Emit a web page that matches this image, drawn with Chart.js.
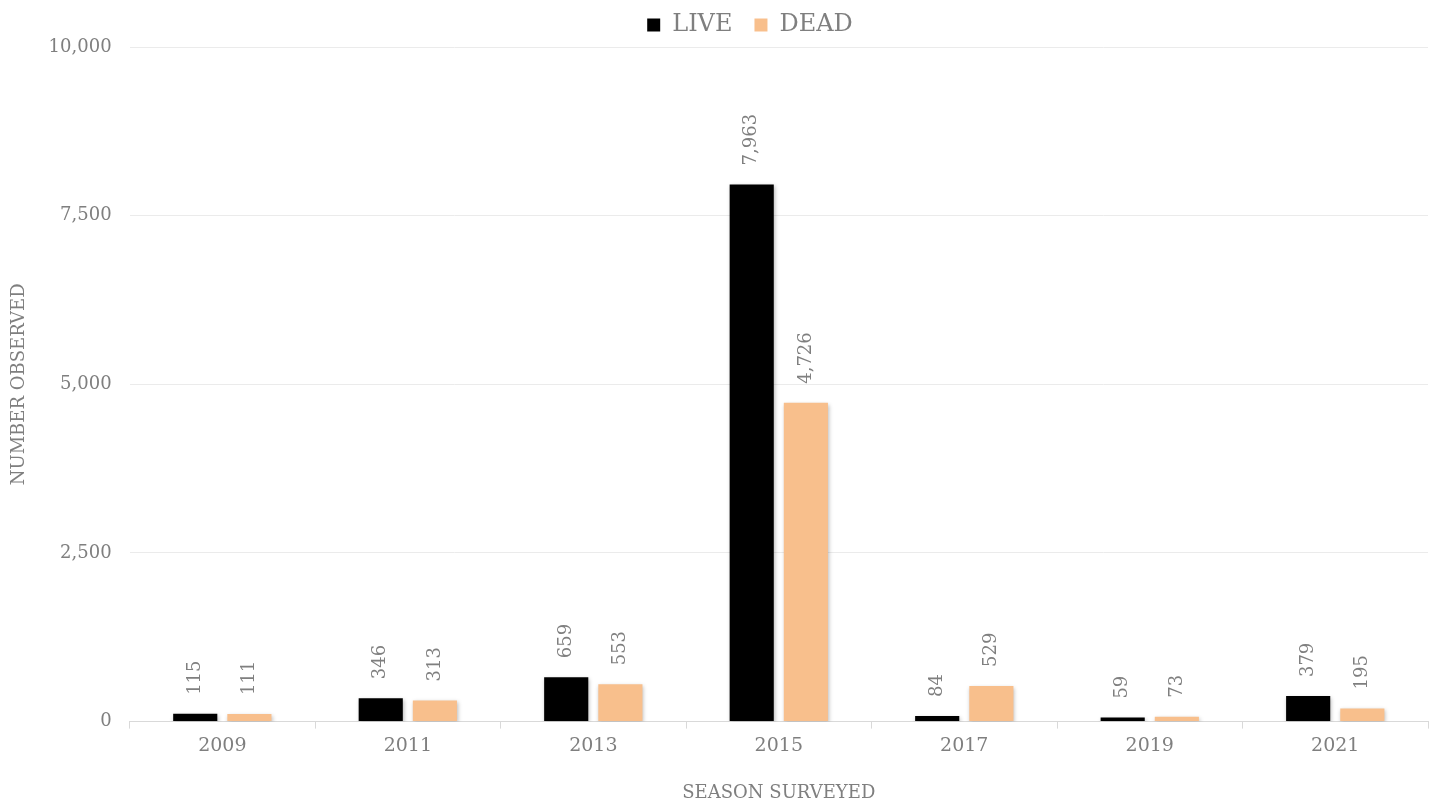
<!DOCTYPE html>
<html><head><meta charset="utf-8">
<script src="https://cdn.jsdelivr.net/npm/chart.js@4"></script>
<style>html,body{margin:0;padding:0;background:#fff}#wrap{width:1446px;height:804px}</style>
</head><body><div id="wrap"><canvas id="c"></canvas></div>
<script>
const categories = ["2009","2011","2013","2015","2017","2019","2021"];
const liveValues = [115,346,659,7963,84,59,379];
const deadValues = [111,313,553,4726,529,73,195];
const yTicks = [0,2500,5000,7500,10000];

const FONT = "'DejaVu Serif', 'Liberation Serif', serif";
const GRAY = '#7f7f7f';

const shadowPlugin = {
  id:'shadow',
  beforeDatasetsDraw(chart){ const c=chart.ctx; c.save(); c.shadowColor='rgba(0,0,0,0.28)'; c.shadowBlur=4; c.shadowOffsetX=1; c.shadowOffsetY=2; },
  afterDatasetsDraw(chart){ chart.ctx.restore(); }
};
const legendShift = {
  id:'legendShift',
  afterLayout(chart){ if(chart.legend){ chart.legend.left += 35; chart.legend.right += 35; } }
};
const labelPlugin = {
  id:'vlabels',
  afterDatasetsDraw(chart){
    const c=chart.ctx;
    c.save();
    c.font = '18px ' + FONT;
    c.fillStyle = GRAY;
    c.textAlign='left'; c.textBaseline='middle';
    chart.data.datasets.forEach((ds,i)=>{
      chart.getDatasetMeta(i).data.forEach((bar,j)=>{
        const v = ds.data[j];
        c.save();
        c.translate(bar.x, bar.y - 19);
        c.rotate(-Math.PI/2);
        c.fillText(v.toLocaleString('en-US'), 0, 0);
        c.restore();
      });
    });
    c.restore();
  }
};

new Chart(document.getElementById('c'), {
  type:'bar',
  data:{ labels:categories, datasets:[
    {label:'LIVE', data:liveValues, backgroundColor:'#000000', borderWidth:0},
    {label:'DEAD', data:deadValues, backgroundColor:'#f8bf8c', borderWidth:0}
  ]},
  options:{
    responsive:true, maintainAspectRatio:false, animation:false,
    devicePixelRatio:1,
    categoryPercentage:0.584, barPercentage:0.815,
    layout:{padding:{left:2,right:18,top:-9,bottom:0}},
    plugins:{
      tooltip:{enabled:false},
      legend:{position:'top', labels:{boxWidth:13, boxHeight:13, color:GRAY, font:{family:FONT,size:24}, padding:22}},
    },
    scales:{
      x:{
        grid:{display:true, drawOnChartArea:false, color:'#d9d9d9', tickLength:7, offset:true},
        border:{display:true, color:'#d9d9d9', width:1},
        ticks:{color:GRAY, font:{family:FONT,size:19}, padding:6},
        title:{display:true, text:'SEASON SURVEYED', color:GRAY, font:{family:FONT,size:18}, padding:{top:19,bottom:0}}
      },
      y:{
        min:0, max:10000,
        afterBuildTicks(axis){ axis.ticks = yTicks.map(v=>({value:v})); },
        grid:{color:'#ebebeb', drawTicks:false},
        border:{display:false},
        ticks:{color:GRAY, font:{family:FONT,size:18}, padding:18, callback:v=>v.toLocaleString('en-US')},
        title:{display:true, text:'NUMBER OBSERVED', color:GRAY, font:{family:FONT,size:18}, padding:{top:7,bottom:0}}
      }
    }
  },
  plugins:[shadowPlugin,legendShift,labelPlugin]
});
</script></body></html>
